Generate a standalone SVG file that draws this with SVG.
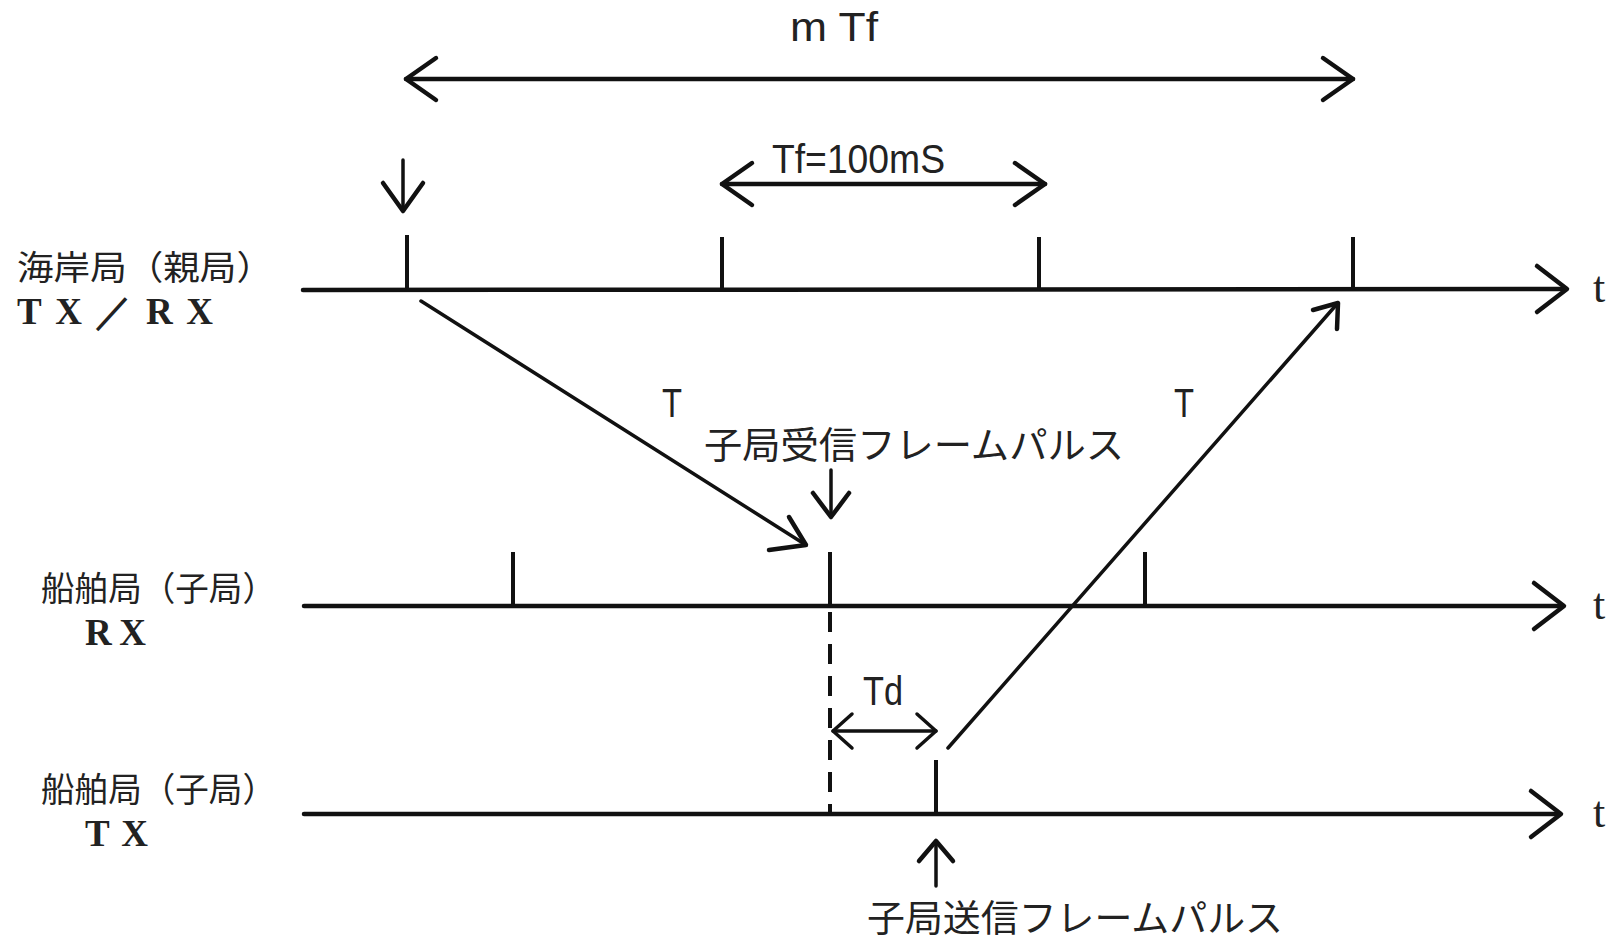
<svg xmlns="http://www.w3.org/2000/svg" width="1617" height="940" viewBox="0 0 1617 940">
<style>
.ax{stroke:#111;stroke-width:4.5;fill:none;stroke-linecap:round;stroke-linejoin:round}
.tk{stroke:#111;stroke-width:4;fill:none;stroke-linecap:butt}
.ln{stroke:#111;stroke-width:3.5;fill:none;stroke-linecap:round;stroke-linejoin:round}
.hd{stroke:#111;stroke-width:4.5;fill:none;stroke-linecap:round;stroke-linejoin:round}
.dash{stroke:#111;stroke-width:4;fill:none;stroke-dasharray:20 12}
.lat{font-family:"Liberation Sans",Arial,sans-serif;fill:#222}
.ser{font-family:"Liberation Serif","Times New Roman",serif;fill:#222}
.jp{font-family:"Noto Sans CJK JP","Noto Sans CJK SC",sans-serif;fill:#222}
</style>
<rect width="1617" height="940" fill="#fff"/>

<g id="station-shore">
  <text class="jp" x="17" y="280" font-size="34" textLength="256" lengthAdjust="spacingAndGlyphs">海岸局（親局）</text>
  <text class="ser" x="17" y="324" font-size="37" font-weight="bold" textLength="196" lengthAdjust="spacing">TX／RX</text>
  <path class="ax" d="M303 290 L1566 289"/>
  <path class="ax" d="M1537 266 L1567 289 L1537 312"/>
  <path class="tk" d="M407 235 V290 M722 237 V290 M1039 237 V289 M1353 237 V289"/>
  <text class="ser" x="1593" y="302" font-size="44">t</text>
</g>

<g id="station-ship-rx">
  <text class="jp" x="41" y="601" font-size="34" textLength="235" lengthAdjust="spacingAndGlyphs">船舶局（子局）</text>
  <text class="ser" x="85" y="645" font-size="37" font-weight="bold" textLength="61" lengthAdjust="spacing">RX</text>
  <path class="ax" d="M304 606 L1563 606"/>
  <path class="ax" d="M1534 583 L1564 606 L1534 629"/>
  <path class="tk" d="M513 552 V606 M830 552 V606 M1145 552 V606"/>
  <text class="ser" x="1593" y="619" font-size="44">t</text>
</g>

<g id="station-ship-tx">
  <text class="jp" x="41" y="802" font-size="34" textLength="235" lengthAdjust="spacingAndGlyphs">船舶局（子局）</text>
  <text class="ser" x="85" y="846" font-size="37" font-weight="bold" textLength="63" lengthAdjust="spacing">TX</text>
  <path class="ax" d="M304 814 L1560 814"/>
  <path class="ax" d="M1531 791 L1561 814 L1531 837"/>
  <path class="tk" d="M936 760 V814"/>
  <text class="ser" x="1593" y="827" font-size="44">t</text>
</g>

<g id="label-mTf">
  <text class="lat" x="790" y="41" font-size="40" textLength="88" lengthAdjust="spacingAndGlyphs">m Tf</text>
</g>
<g id="label-Tf">
  <text class="lat" x="772" y="173" font-size="41" textLength="173" lengthAdjust="spacingAndGlyphs">Tf=100mS</text>
</g>
<g id="label-T1"><text class="lat" x="672" y="417" font-size="40" text-anchor="middle" textLength="20" lengthAdjust="spacingAndGlyphs">T</text></g>
<g id="label-T2"><text class="lat" x="1184" y="417" font-size="40" text-anchor="middle" textLength="20" lengthAdjust="spacingAndGlyphs">T</text></g>
<g id="label-rx-pulse">
  <text class="jp" x="704" y="459" font-size="37" textLength="420" lengthAdjust="spacingAndGlyphs">子局受信フレームパルス</text>
</g>
<g id="label-Td"><text class="lat" x="863" y="705" font-size="40" textLength="40" lengthAdjust="spacingAndGlyphs">Td</text></g>
<g id="label-tx-pulse">
  <text class="jp" x="867" y="932" font-size="37" textLength="416" lengthAdjust="spacingAndGlyphs">子局送信フレームパルス</text>
</g>

<g id="connectors">
  <path class="ax" d="M406 79 H1353"/>
  <path class="ax" d="M436 58 L406 79 L436 100"/>
  <path class="ax" d="M1323 58 L1353 79 L1323 100"/>
  <path class="ax" d="M722 184 H1045"/>
  <path class="ax" d="M752 163 L722 184 L752 205"/>
  <path class="ax" d="M1015 163 L1045 184 L1015 205"/>
  <path class="ln" d="M403 160 V211"/>
  <path class="hd" d="M383 183 L403 211 L423 183"/>
  <path class="ln" d="M421 301 L806 545"/>
  <path class="hd" d="M769 550 L806 545 L789 517"/>
  <path class="ln" d="M831 470 V517"/>
  <path class="hd" d="M813 493 L831 517 L849 493"/>
  <path class="dash" d="M830 612 V814"/>
  <path class="ln" d="M833 731 H936"/>
  <path class="ln" d="M852 714 L833 731 L852 748"/>
  <path class="ln" d="M917 714 L936 731 L917 748"/>
  <path class="ln" d="M948 748 L1337 304"/>
  <path class="hd" d="M1313 310 L1338 303 L1337 329"/>
  <path class="ln" d="M936 842 V886"/>
  <path class="hd" d="M919 861 L936 841 L953 861"/>
</g>
</svg>
